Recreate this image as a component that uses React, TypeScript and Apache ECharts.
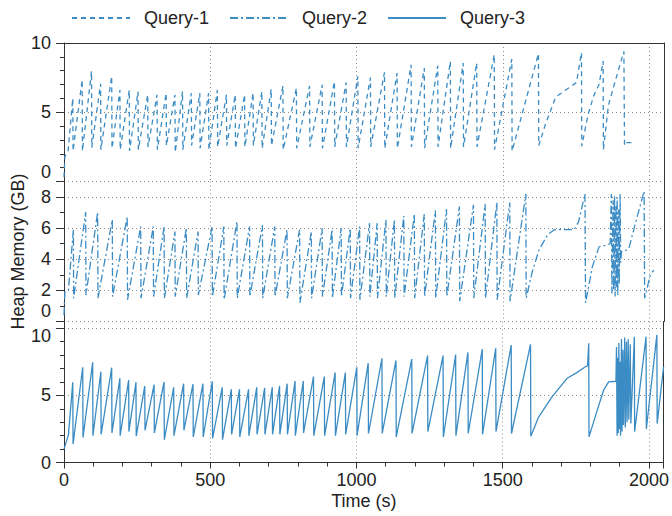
import React, { useEffect, useRef } from 'react';
import * as echarts from 'echarts';

// ---------- data ----------
const xTickLabels = [0, 500, 1000, 1500, 2000];
const legendNames = ['Query-1', 'Query-2', 'Query-3'];

// Query-1 (top panel)
const q1Head: [number, number][] = [[0, 0.3], [3, 1.8], [14, 2.2]];
const q1PeakT = [30, 62, 94, 125, 163, 191, 223, 253, 286, 318, 349, 379, 405, 435, 464, 494, 524, 555, 585, 617, 646, 676, 708, 748, 794, 839, 882, 924, 964, 1004, 1047, 1095, 1138, 1186, 1231, 1277, 1320, 1364, 1410, 1470, 1530, 1621];
const q1PeakV = [6.0, 7.35, 7.95, 7.06, 7.6, 6.6, 6.6, 6.5, 6.26, 6.26, 6.38, 6.26, 6.5, 6.38, 6.38, 6.38, 6.6, 6.26, 6.26, 6.26, 6.4, 6.5, 6.67, 6.9, 6.74, 6.9, 6.98, 7.22, 7.15, 7.6, 7.5, 7.88, 7.83, 8.43, 8.19, 8.36, 8.67, 8.55, 8.55, 9.15, 8.84, 9.23];
const q1TroughV = [2.2, 2.2, 2.45, 2.3, 2.4, 2.3, 2.2, 2.3, 2.5, 2.3, 2.6, 2.1, 2.3, 2.6, 2.4, 2.3, 2.5, 2.6, 2.4, 2.5, 2.6, 2.4, 2.6, 2.3, 2.4, 2.5, 2.4, 2.5, 2.5, 2.4, 2.5, 2.4, 2.4, 2.5, 2.4, 2.5, 2.4, 2.5, 2.5, 2.3, 2.2, 2.6];
const q1Tail: [number, number][] = [[1646, 4.2], [1680, 6.1], [1714, 6.6], [1751, 7.15], [1768, 9.3], [1769, 2.55], [1790, 4.8], [1810, 6.2], [1828, 7.0], [1842, 8.7], [1843, 2.3], [1860, 5.5], [1880, 7.0], [1913, 9.4], [1915, 2.6], [1922, 2.8], [1940, 2.8]];

// Query-2 (middle panel)
const q2Head: [number, number][] = [[0, 0.4], [3, 1.9], [15, 2.0]];
const q2PeakT = [32, 74, 115, 165, 216, 262, 305, 342, 379, 418, 458, 506, 546, 591, 634, 678, 720, 762, 805, 845, 882, 916, 947, 978, 1010, 1044, 1070, 1100, 1129, 1161, 1197, 1231, 1269, 1307, 1351, 1399, 1439, 1479, 1523, 1578];
const q2PeakV = [5.9, 7.03, 7.03, 6.54, 6.75, 6.1, 6.1, 6.1, 5.78, 6.0, 5.78, 6.1, 6.1, 6.43, 6.1, 6.2, 6.1, 5.9, 5.9, 5.78, 6.0, 5.9, 6.0, 6.0, 6.1, 6.32, 6.32, 6.54, 6.54, 6.79, 6.9, 6.9, 7.14, 7.22, 7.39, 7.5, 7.56, 7.65, 7.65, 8.2];
const q2TroughV = [1.5, 1.7, 1.5, 1.6, 1.4, 1.5, 1.6, 1.5, 1.6, 1.5, 1.7, 1.6, 1.4, 1.5, 1.6, 1.5, 1.6, 1.5, 1.2, 1.5, 1.6, 1.5, 1.6, 1.5, 1.4, 1.6, 1.5, 1.6, 1.5, 1.6, 1.5, 1.6, 1.5, 1.6, 1.3, 1.5, 1.5, 1.4, 1.3, 1.5];
const q2Tail: [number, number][] = [[1600, 3.2], [1623, 4.6], [1652, 5.57], [1675, 5.9], [1743, 5.9], [1758, 6.4], [1780, 8.2], [1782, 1.2], [1805, 3.5], [1828, 4.8], [1850, 4.9], [1866, 5.0], [1870, 8.2], [1872, 1.8], [1876, 7.8], [1878, 2.0], [1881, 8.1], [1883, 1.6], [1886, 7.5], [1888, 2.2], [1890, 8.0], [1892, 1.7], [1895, 7.2], [1897, 2.4], [1900, 8.2], [1902, 3.8], [1905, 4.5], [1913, 4.5], [1930, 4.7], [1955, 6.5], [1982, 8.36], [1984, 1.5], [1998, 2.6], [2005, 3.1], [2016, 3.3]];

// Query-3 (bottom panel)
const q3Head: [number, number][] = [[0, 1.0], [3, 1.2], [15, 2.04]];
const q3PeakT = [30, 64, 98, 126, 163, 191, 221, 246, 276, 308, 342, 375, 409, 441, 475, 507, 541, 572, 600, 631, 659, 686, 712, 737, 763, 790, 818, 853, 890, 927, 962, 1001, 1040, 1087, 1135, 1189, 1243, 1296, 1339, 1381, 1430, 1476, 1529, 1595];
const q3PeakV = [5.97, 7.09, 7.46, 6.76, 7.06, 6.27, 6.14, 5.97, 5.69, 5.8, 6.0, 5.6, 5.87, 5.83, 5.87, 6.04, 5.6, 5.45, 5.45, 5.45, 5.6, 5.55, 5.6, 5.7, 5.87, 6.07, 6.07, 6.4, 6.4, 6.7, 6.7, 7.09, 7.4, 7.76, 7.6, 7.7, 7.96, 7.96, 8.04, 8.2, 8.45, 8.5, 8.75, 8.8];
const q3TroughV = [1.37, 1.86, 2.0, 2.1, 2.2, 2.0, 2.3, 1.97, 2.4, 2.2, 1.7, 2.0, 2.4, 1.9, 1.9, 1.8, 1.7, 2.1, 1.9, 2.0, 2.1, 2.1, 2.1, 2.1, 2.1, 2.0, 2.2, 2.0, 2.0, 2.0, 2.1, 2.0, 2.16, 2.16, 1.9, 2.16, 2.3, 1.9, 2.0, 2.16, 2.1, 2.3, 2.16, 1.96];
const q3Tail: [number, number][] = [[1623, 3.4], [1669, 4.9], [1720, 6.27], [1749, 6.64], [1783, 7.13], [1790, 7.2], [1794, 8.88], [1795, 1.91], [1816, 3.4], [1845, 5.4], [1862, 6.0], [1887, 6.05], [1889, 8.6], [1891, 2.0], [1893, 7.8], [1895, 2.2], [1897, 8.9], [1899, 2.5], [1901, 7.5], [1903, 2.0], [1906, 9.2], [1908, 2.3], [1911, 8.4], [1913, 2.8], [1917, 9.3], [1919, 2.6], [1923, 9.0], [1925, 3.0], [1929, 9.2], [1931, 3.2], [1936, 8.8], [1938, 2.9], [1950, 9.37], [1951, 2.3], [1990, 9.37], [1991, 2.5], [2027, 9.5], [2028, 2.9], [2050, 7.13]];

const X_MAX = 2050;

function saw(head: [number, number][], T: number[], P: number[], Tr: number[], tail: [number, number][]) {
  const pts: [number, number][] = [...head];
  T.forEach((t, i) => {
    pts.push([t, P[i]]);
    pts.push([t + 1, Tr[i]]);
  });
  return pts.concat(tail);
}

const FONT = "'Liberation Sans', Arial, Helvetica, sans-serif";
const TXT = '#222';
const AX = '#333';
const LINE = '#3b8cc4';
const dotted = { show: true, lineStyle: { color: '#8a8a8a', type: [1, 3], width: 1 } };

function buildOption() {
  const grids = [
    { left: 64, right: 8, top: 43, height: 138.5 },
    { left: 64, right: 8, top: 181.5, height: 140 },
    { left: 64, right: 8, top: 321.5, height: 141 },
  ];
  const hiddenX = (g: number) => ({
    type: 'value', gridIndex: g, position: 'bottom', min: 0, max: X_MAX, interval: 500,
    axisLine: { show: false, onZero: false }, axisTick: { show: false }, axisLabel: { show: false }, splitLine: dotted,
  });
  const xAxis: any[] = [
    hiddenX(0),
    {
      type: 'value', gridIndex: 0, position: 'top', min: 0, max: X_MAX,
      axisLine: { show: true, onZero: false, lineStyle: { color: AX, width: 1 } }, axisTick: { show: false }, axisLabel: { show: false }, splitLine: { show: false },
    },
    hiddenX(1),
    {
      type: 'value', gridIndex: 2, position: 'bottom', min: 0, max: X_MAX, interval: 500,
      axisLine: { show: true, onZero: false, lineStyle: { color: AX, width: 1 } },
      axisTick: { show: true, length: 6, lineStyle: { color: AX } },
      axisLabel: {
        fontSize: 18, color: TXT, fontFamily: FONT, margin: 8,
        formatter: (v: number) => (xTickLabels.includes(v) ? String(v) : ''),
      },
      splitLine: dotted,
      name: 'Time (s)', nameLocation: 'middle', nameGap: 29,
      nameTextStyle: { fontSize: 18, color: TXT, fontFamily: FONT },
    },
    {
      type: 'value', gridIndex: 2, position: 'bottom', min: 0, max: X_MAX, interval: 100,
      axisLine: { show: false, onZero: false }, axisTick: { show: true, length: 4, lineStyle: { color: AX } },
      axisLabel: { show: false }, splitLine: { show: false },
    },
  ];

  // per panel: range, major step, label step, and the one label that is nudged off its tick
  const panelY = [
    { max: 10, interval: 5, step: 5, special: 0, pad: [0, 0, 20, 0] },
    { max: 9, interval: 2, step: 2, special: 0, pad: [0, 0, 22, 0] },
    { max: 10.5, interval: 5, step: 5, special: 10, pad: [16, 0, 0, 0] },
  ];
  const yAxis: any[] = [];
  panelY.forEach((p, g) => {
    yAxis.push({
      type: 'value', gridIndex: g, position: 'left', min: 0, max: p.max, interval: p.interval,
      axisLine: { show: true, onZero: false, lineStyle: { color: AX, width: 1 } },
      axisTick: { show: true, length: 8, lineStyle: { color: AX } },
      axisLabel: {
        fontSize: 18, color: TXT, fontFamily: FONT, margin: 13,
        formatter: (v: number) => (v !== p.special && v % p.step === 0 ? String(v) : ''),
      },
      splitLine: dotted,
      ...(g === 1
        ? { name: 'Heap Memory (GB)', nameLocation: 'middle', nameGap: 37, nameTextStyle: { fontSize: 18, color: TXT, fontFamily: FONT } }
        : {}),
    });
    yAxis.push({
      type: 'value', gridIndex: g, position: 'left', min: 0, max: p.max, interval: 1,
      axisLine: { show: false, onZero: false }, axisTick: { show: true, length: 4, lineStyle: { color: AX } },
      axisLabel: { show: false }, splitLine: { show: false },
    });
    yAxis.push({
      type: 'value', gridIndex: g, position: 'right', min: 0, max: p.max,
      axisLine: { show: true, onZero: false, lineStyle: { color: AX, width: 1 } }, axisTick: { show: false },
      axisLabel: { show: false }, splitLine: { show: false },
    });
    // label-only axis for the nudged label
    yAxis.push({
      type: 'value', gridIndex: g, position: 'left', min: 0, max: p.max, interval: p.interval,
      axisLine: { show: false, onZero: false }, axisTick: { show: false }, splitLine: { show: false },
      axisLabel: {
        margin: 13, showMinLabel: true, showMaxLabel: true,
        formatter: (v: number) => (v === p.special ? `{s|${v}}` : ''),
        rich: { s: { fontSize: 18, color: TXT, fontFamily: FONT, padding: p.pad } },
      },
    });
  });

  const mk = (name: string, xi: number, yi: number, data: [number, number][], type: any) => ({
    name, type: 'line', xAxisIndex: xi, yAxisIndex: yi, data,
    showSymbol: false, symbol: 'none', silent: true,
    lineStyle: { color: LINE, width: 1.3, type },
    itemStyle: { color: LINE },
  });

  return {
    animation: false,
    textStyle: { fontFamily: FONT },
    legend: {
      top: 4, left: 66, itemWidth: 58, itemHeight: 14, itemGap: 20,
      data: legendNames,
      itemStyle: { opacity: 0 },
      textStyle: { fontSize: 18, color: TXT, fontFamily: FONT, padding: [0, 0, 0, 9] },
    },
    grid: grids,
    xAxis,
    yAxis,
    series: [
      mk(legendNames[0], 0, 0, saw(q1Head, q1PeakT, q1PeakV, q1TroughV, q1Tail), [5, 4]),
      mk(legendNames[1], 2, 4, saw(q2Head, q2PeakT, q2PeakV, q2TroughV, q2Tail), [8, 3, 2, 3]),
      mk(legendNames[2], 3, 8, saw(q3Head, q3PeakT, q3PeakV, q3TroughV, q3Tail), 'solid'),
    ],
  };
}

export default function App() {
  const ref = useRef<HTMLDivElement>(null);
  useEffect(() => {
    if (!ref.current) return;
    const chart = echarts.init(ref.current, null, { renderer: 'svg' });
    chart.setOption(buildOption() as any);
    return () => chart.dispose();
  }, []);
  return <div ref={ref} style={{ position: 'absolute', left: 0, top: 0, width: 672, height: 516 }} />;
}
